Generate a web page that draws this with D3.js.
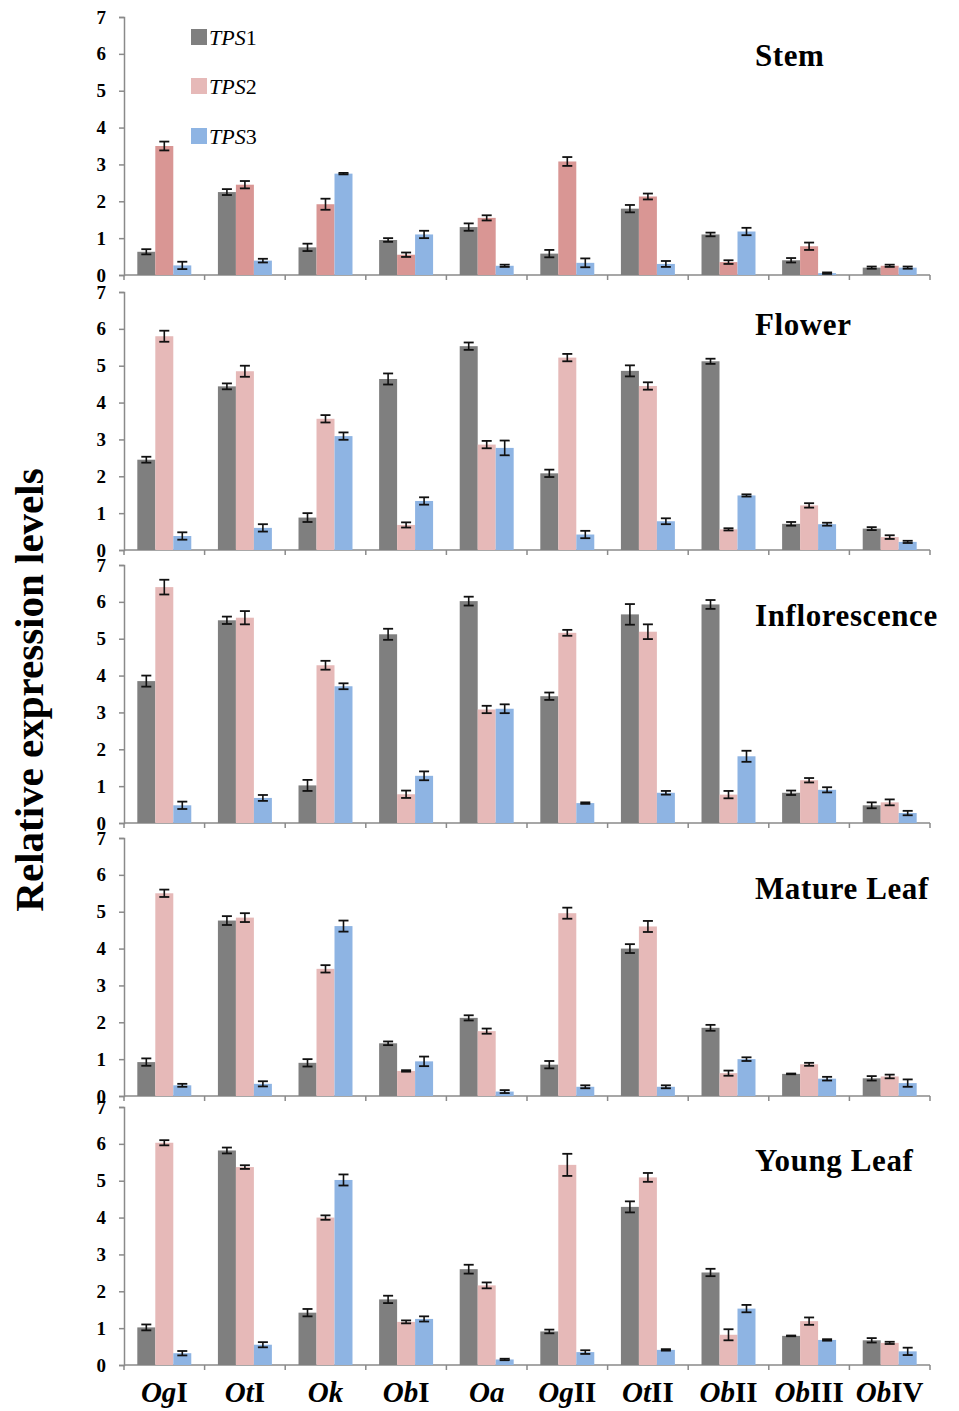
<!DOCTYPE html>
<html>
<head>
<meta charset="utf-8">
<script src="https://cdn.jsdelivr.net/npm/d3@7"></script>
<style>
  html, body { margin: 0; padding: 0; background: #fff; }
  svg { display: block; }
  text { font-family: "Liberation Serif", "Times New Roman", serif; }
</style>
</head>
<body>
<svg id="chart" width="959" height="1411"></svg>
<script>
// Genotypes on the x axis
const groups = ["OgI", "OtI", "Ok", "ObI", "Oa", "OgII", "OtII", "ObII", "ObIII", "ObIV"];
const series = ["TPS1", "TPS2", "TPS3"];
const tissues = ["Stem", "Flower", "Inflorescence", "Mature Leaf", "Young Leaf"];
const yTicks = [0, 1, 2, 3, 4, 5, 6, 7];

// Relative expression (means)
const stemTPS1 = [0.63, 2.25, 0.75, 0.95, 1.30, 0.58, 1.80, 1.10, 0.40, 0.20];
const stemTPS2 = [3.50, 2.45, 1.92, 0.55, 1.55, 3.08, 2.13, 0.35, 0.78, 0.25];
const stemTPS3 = [0.26, 0.39, 2.75, 1.10, 0.25, 0.33, 0.30, 1.18, 0.05, 0.20];

const flowerTPS1 = [2.45, 4.44, 0.88, 4.64, 5.53, 2.08, 4.86, 5.12, 0.71, 0.58];
const flowerTPS2 = [5.80, 4.85, 3.56, 0.68, 2.86, 5.22, 4.45, 0.56, 1.21, 0.35];
const flowerTPS3 = [0.38, 0.60, 3.09, 1.33, 2.77, 0.42, 0.78, 1.48, 0.70, 0.22];

const inflTPS1 = [3.85, 5.50, 1.02, 5.12, 6.02, 3.44, 5.66, 5.93, 0.82, 0.48];
const inflTPS2 = [6.40, 5.57, 4.28, 0.78, 3.08, 5.16, 5.19, 0.77, 1.16, 0.56];
const inflTPS3 = [0.48, 0.68, 3.71, 1.28, 3.10, 0.54, 0.82, 1.81, 0.90, 0.27];

const matureTPS1 = [0.92, 4.76, 0.90, 1.43, 2.12, 0.85, 4.00, 1.85, 0.60, 0.48];
const matureTPS2 = [5.50, 4.84, 3.45, 0.68, 1.76, 4.96, 4.60, 0.62, 0.86, 0.53];
const matureTPS3 = [0.29, 0.33, 4.61, 0.94, 0.12, 0.25, 0.25, 1.00, 0.47, 0.35];

const youngTPS1 = [1.02, 5.82, 1.42, 1.78, 2.60, 0.91, 4.29, 2.51, 0.79, 0.67];
const youngTPS2 = [6.03, 5.37, 4.00, 1.17, 2.16, 5.43, 5.09, 0.82, 1.19, 0.60];
const youngTPS3 = [0.32, 0.55, 5.02, 1.25, 0.15, 0.35, 0.41, 1.53, 0.68, 0.37];

// Standard errors
const stemErr1 = [0.07, 0.08, 0.10, 0.05, 0.10, 0.10, 0.10, 0.05, 0.06, 0.03];
const stemErr2 = [0.12, 0.10, 0.15, 0.06, 0.07, 0.12, 0.08, 0.05, 0.10, 0.03];
const stemErr3 = [0.10, 0.05, 0.02, 0.10, 0.03, 0.12, 0.08, 0.10, 0.02, 0.03];

const flowerErr1 = [0.08, 0.08, 0.12, 0.15, 0.10, 0.10, 0.15, 0.07, 0.05, 0.04];
const flowerErr2 = [0.15, 0.15, 0.10, 0.07, 0.10, 0.10, 0.10, 0.03, 0.06, 0.05];
const flowerErr3 = [0.10, 0.10, 0.10, 0.10, 0.20, 0.10, 0.08, 0.03, 0.04, 0.03];

const inflErr1 = [0.15, 0.10, 0.15, 0.15, 0.12, 0.10, 0.28, 0.12, 0.06, 0.08];
const inflErr2 = [0.20, 0.18, 0.12, 0.10, 0.10, 0.08, 0.20, 0.10, 0.06, 0.08];
const inflErr3 = [0.10, 0.08, 0.08, 0.12, 0.12, 0.02, 0.05, 0.15, 0.07, 0.06];

const matureErr1 = [0.10, 0.12, 0.10, 0.05, 0.07, 0.10, 0.12, 0.08, 0.01, 0.06];
const matureErr2 = [0.10, 0.12, 0.10, 0.02, 0.07, 0.15, 0.15, 0.07, 0.04, 0.05];
const matureErr3 = [0.04, 0.07, 0.15, 0.13, 0.04, 0.04, 0.04, 0.05, 0.05, 0.10];

const youngErr1 = [0.08, 0.08, 0.10, 0.10, 0.12, 0.05, 0.15, 0.10, 0.01, 0.06];
const youngErr2 = [0.07, 0.05, 0.06, 0.04, 0.08, 0.30, 0.12, 0.15, 0.10, 0.03];
const youngErr3 = [0.06, 0.07, 0.15, 0.07, 0.02, 0.05, 0.02, 0.10, 0.02, 0.10];

const panelValues = [
  [stemTPS1, stemTPS2, stemTPS3],
  [flowerTPS1, flowerTPS2, flowerTPS3],
  [inflTPS1, inflTPS2, inflTPS3],
  [matureTPS1, matureTPS2, matureTPS3],
  [youngTPS1, youngTPS2, youngTPS3]
];
const panelErrors = [
  [stemErr1, stemErr2, stemErr3],
  [flowerErr1, flowerErr2, flowerErr3],
  [inflErr1, inflErr2, inflErr3],
  [matureErr1, matureErr2, matureErr3],
  [youngErr1, youngErr2, youngErr3]
];

// Colours
const seriesColors = ["#7f7f7f", "#e6b9b8", "#8eb4e3"];
const stemTPS2Color = "#d99694";
const axisColor = "#8a8a8a";

// Layout
const left = 124, right = 930;
const panelTops = [17, 292, 565, 838, 1107];
const panelHeight = 258;
const titleBaselines = [66, 335, 626, 899, 1171];
const titleX = 755;

const svg = d3.select("#chart");

const x = d3.scaleBand().domain(groups).range([left, right]).paddingInner(0).paddingOuter(0);
const xs = d3.scaleBand().domain(series).range([0, x.bandwidth()]).paddingInner(0).paddingOuter(0.74);

tissues.forEach((tissue, p) => {
  const top = panelTops[p];
  const zero = top + panelHeight;
  const y = d3.scaleLinear().domain([0, 7]).range([zero, top]);
  const g = svg.append("g");

  // Y axis
  const yAxis = d3.axisLeft(y).tickValues(yTicks).tickSize(5).tickFormat(d3.format("d"));
  const ya = g.append("g").attr("transform", `translate(${left},0)`).call(yAxis);
  ya.select(".domain").attr("stroke", axisColor).attr("stroke-width", 1.5);
  ya.selectAll(".tick line").attr("stroke", axisColor).attr("stroke-width", 1.5);
  ya.selectAll(".tick text")
    .attr("x", -18)
    .attr("fill", "#000")
    .style("font-family", "'Liberation Serif', serif")
    .style("font-weight", "bold")
    .style("font-size", "19px");

  // X axis with ticks on group boundaries
  const boundaries = groups.map(d => x(d)).concat([right]);
  g.append("line")
    .attr("x1", left).attr("x2", right)
    .attr("y1", zero).attr("y2", zero)
    .attr("stroke", axisColor).attr("stroke-width", 1.5);
  g.selectAll(".xtick").data(boundaries).enter().append("line")
    .attr("x1", d => d).attr("x2", d => d)
    .attr("y1", zero).attr("y2", zero + 5)
    .attr("stroke", axisColor).attr("stroke-width", 1.5);

  // Bars
  series.forEach((s, si) => {
    const vals = panelValues[p][si];
    const errs = panelErrors[p][si];
    const color = (p === 0 && si === 1) ? stemTPS2Color : seriesColors[si];
    const data = groups.map((grp, gi) => ({ grp, v: vals[gi], e: errs[gi] }));

    g.selectAll(`.bar-${si}`).data(data).enter().append("rect")
      .attr("x", d => x(d.grp) + xs(s))
      .attr("y", d => y(d.v))
      .attr("width", xs.bandwidth())
      .attr("height", d => y(0) - y(d.v))
      .attr("fill", color);

    // Error bars
    const eb = g.selectAll(`.err-${si}`).data(data).enter().append("g")
      .attr("transform", d => `translate(${x(d.grp) + xs(s) + xs.bandwidth() / 2},0)`);
    eb.append("line")
      .attr("x1", 0).attr("x2", 0)
      .attr("y1", d => y(d.v + d.e)).attr("y2", d => y(Math.max(0, d.v - d.e)))
      .attr("stroke", "#111").attr("stroke-width", 1.6);
    eb.append("line")
      .attr("x1", -5).attr("x2", 5)
      .attr("y1", d => y(d.v + d.e)).attr("y2", d => y(d.v + d.e))
      .attr("stroke", "#111").attr("stroke-width", 1.8);
    eb.append("line")
      .attr("x1", -5).attr("x2", 5)
      .attr("y1", d => y(Math.max(0, d.v - d.e))).attr("y2", d => y(Math.max(0, d.v - d.e)))
      .attr("stroke", "#111").attr("stroke-width", 1.8);
  });

  // Tissue title
  g.append("text")
    .attr("x", titleX).attr("y", titleBaselines[p])
    .attr("fill", "#000")
    .style("font-weight", "bold")
    .style("font-size", "31px")
    .style("letter-spacing", "0.6px")
    .text(tissue);
});

// Legend
const legendY = [29, 78, 128];
const legend = svg.append("g");
series.forEach((s, si) => {
  legend.append("rect")
    .attr("x", 191).attr("y", legendY[si])
    .attr("width", 16).attr("height", 16)
    .attr("fill", seriesColors[si]);
  const t = legend.append("text")
    .attr("x", 209).attr("y", legendY[si] + 16)
    .attr("fill", "#000")
    .style("font-size", "22px");
  const m = s.match(/^([A-Z]+)(\d+)$/);
  t.append("tspan").style("font-style", "italic").text(m[1]);
  t.append("tspan").text(m[2]);
});

// Genotype labels: species abbreviation in italics, clade numeral upright
const lastZero = panelTops[panelTops.length - 1] + panelHeight;
const labels = svg.append("g");
groups.forEach(grp => {
  const m = grp.match(/^(O[a-z])(.*)$/);
  const t = labels.append("text")
    .attr("x", x(grp) + x.bandwidth() / 2)
    .attr("y", lastZero + 37)
    .attr("text-anchor", "middle")
    .attr("fill", "#000")
    .style("font-weight", "bold")
    .style("font-size", "29px");
  t.append("tspan").style("font-style", "italic").text(m[1]);
  if (m[2]) t.append("tspan").text(m[2]);
});

// Y axis title
svg.append("text")
  .attr("transform", "translate(43,690) rotate(-90)")
  .attr("text-anchor", "middle")
  .attr("fill", "#000")
  .style("font-weight", "bold")
  .style("font-size", "41px")
  .text("Relative expression levels");
</script>
</body>
</html>
